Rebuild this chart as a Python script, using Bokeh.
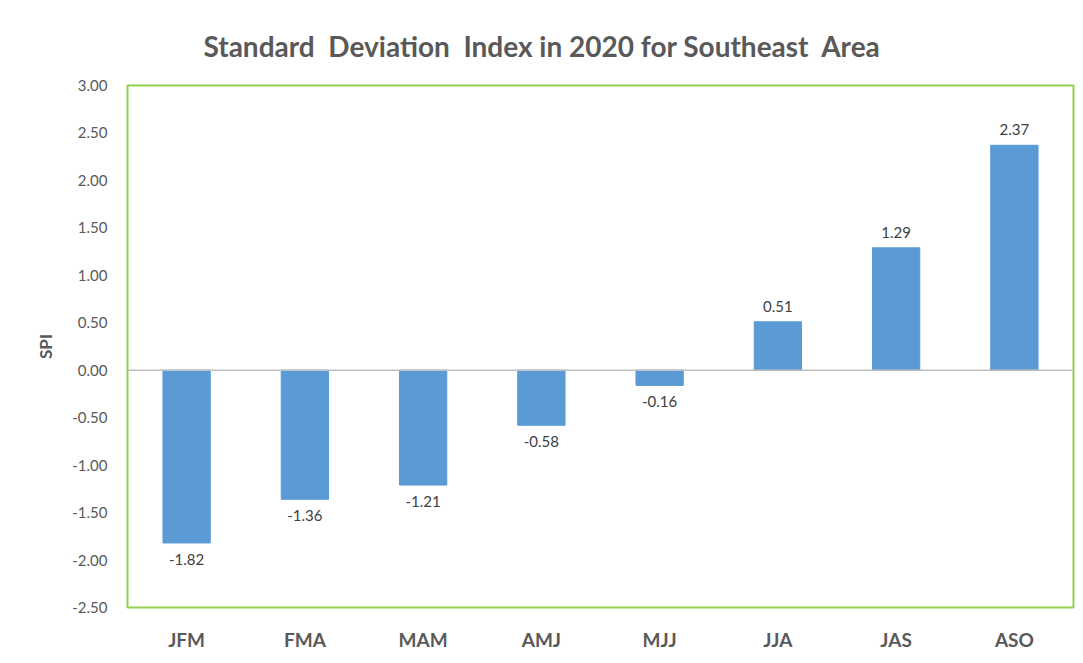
from bokeh.plotting import figure
from bokeh.models import ColumnDataSource, Span, FixedTicker, CustomJSTickFormatter, LabelSet, Range1d
from bokeh.core.properties import value
from bokeh.embed import file_html
from bokeh.resources import INLINE

periods = ["JFM", "FMA", "MAM", "AMJ", "MJJ", "JJA", "JAS", "ASO"]
spi = [-1.82, -1.36, -1.21, -0.58, -0.16, 0.51, 1.29, 2.37]
y_ticks = [-2.5, -2.0, -1.5, -1.0, -0.5, 0.0, 0.5, 1.0, 1.5, 2.0, 2.5, 3.0]

src = ColumnDataSource(dict(x=periods, top=spi))

FONT = "Lato"
NB = "\u00a0"
p = figure(x_range=periods, y_range=Range1d(-2.5, 3.0), width=1075, height=655,
           output_backend="svg", toolbar_location=None,
           min_border_left=127, min_border_right=2, min_border_top=85, min_border_bottom=48,
           title=f"Standard {NB}Deviation {NB}Index in 2020 for Southeast {NB}Area")
p.title.align = "left"
p.title.offset = 76
p.title.text_font = FONT
p.title.text_font_size = "28px"
p.title.text_font_style = "bold"
p.title.text_color = "#595959"
p.title.standoff = 46

p.vbar(x="x", top="top", bottom=0, width=0.4, source=src, color="#5B9BD5")

p.add_layout(Span(location=0, dimension="width", line_color="#BFBFBF", line_width=1.5))

pos = ColumnDataSource(dict(x=[x for x, v in zip(periods, spi) if v >= 0],
                            y=[v for v in spi if v >= 0],
                            t=[f"{v:.2f}" for v in spi if v >= 0]))
neg = ColumnDataSource(dict(x=[x for x, v in zip(periods, spi) if v < 0],
                            y=[v for v in spi if v < 0],
                            t=[f"{v:.2f}" for v in spi if v < 0]))
p.add_layout(LabelSet(x="x", y="y", text="t", source=pos, y_offset=10, text_align="center",
                      text_baseline="bottom", text_font=value(FONT), text_font_size=value("15px"),
                      text_color="#404040"))
p.add_layout(LabelSet(x="x", y="y", text="t", source=neg, y_offset=-11, text_align="center",
                      text_baseline="top", text_font=value(FONT), text_font_size=value("15px"),
                      text_color="#404040"))

p.xgrid.visible = False
p.ygrid.visible = False
p.outline_line_color = "#92D050"
p.outline_line_width = 2

p.yaxis.ticker = FixedTicker(ticks=y_ticks)
p.yaxis.formatter = CustomJSTickFormatter(code="return tick.toFixed(2);")
p.yaxis.axis_line_color = None
p.yaxis.major_tick_line_color = None
p.yaxis.minor_tick_line_color = None
p.yaxis.major_label_text_font = FONT
p.yaxis.major_label_text_font_size = "15px"
p.yaxis.major_label_text_color = "#595959"
p.yaxis.major_label_standoff = 14
p.yaxis.axis_label = "SPI"
p.yaxis.axis_label_text_font = FONT
p.yaxis.axis_label_text_font_size = "17px"
p.yaxis.axis_label_text_font_style = "bold"
p.yaxis.axis_label_text_color = "#595959"
p.yaxis.axis_label_standoff = 13

p.xaxis.axis_line_color = None
p.xaxis.major_tick_line_color = None
p.xaxis.minor_tick_line_color = None
p.xaxis.major_label_text_font = FONT
p.xaxis.major_label_text_font_size = "19px"
p.xaxis.major_label_text_font_style = "bold"
p.xaxis.major_label_text_color = "#595959"
p.xaxis.major_label_standoff = 14

p.background_fill_color = "white"
p.border_fill_color = "white"

open("out.html", "w").write(file_html(p, INLINE))
